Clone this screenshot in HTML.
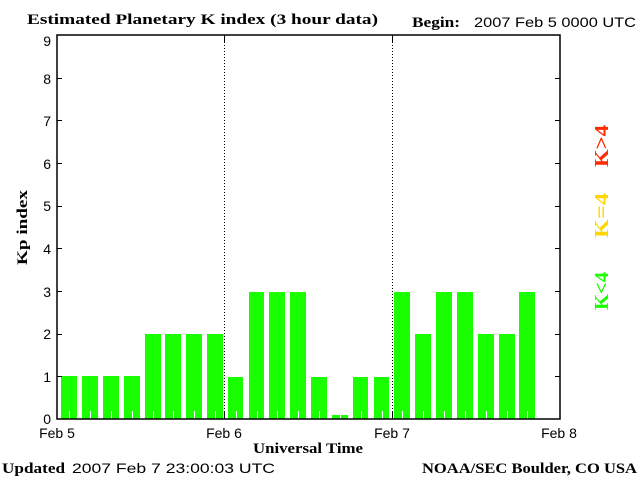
<!DOCTYPE html>
<html><head><meta charset="utf-8"><style>
html,body{margin:0;padding:0;background:#fff;width:640px;height:480px;overflow:hidden}
svg{display:block}
.s{font-family:"Liberation Sans",sans-serif;font-size:14px;fill:#000}
.b{font-family:"Liberation Serif",serif;font-weight:bold;font-size:15px;fill:#000}
</style></head><body>
<svg width="640" height="480" viewBox="0 0 640 480" xmlns="http://www.w3.org/2000/svg">
<text class="b" x="27" y="24" textLength="351" lengthAdjust="spacingAndGlyphs">Estimated Planetary K index (3 hour data)</text>
<text class="b" x="412" y="27" textLength="48" lengthAdjust="spacingAndGlyphs">Begin:</text>
<text class="s" x="474" y="27" textLength="162" lengthAdjust="spacingAndGlyphs">2007 Feb 5 0000 UTC</text>
<g fill="#1aff00">
<rect x="61" y="376" width="16" height="43"/>
<rect x="82" y="376" width="16" height="43"/>
<rect x="103" y="376" width="16" height="43"/>
<rect x="124" y="376" width="16" height="43"/>
<rect x="145" y="334" width="16" height="85"/>
<rect x="165" y="334" width="16" height="85"/>
<rect x="186" y="334" width="16" height="85"/>
<rect x="207" y="334" width="16" height="85"/>
<rect x="228" y="377" width="15" height="42"/>
<rect x="249" y="292" width="15" height="127"/>
<rect x="269" y="292" width="16" height="127"/>
<rect x="290" y="292" width="16" height="127"/>
<rect x="311" y="377" width="16" height="42"/>
<rect x="332" y="415" width="16" height="4"/>
<rect x="353" y="377" width="15" height="42"/>
<rect x="374" y="377" width="15" height="42"/>
<rect x="394" y="292" width="16" height="127"/>
<rect x="415" y="334" width="16" height="85"/>
<rect x="436" y="292" width="16" height="127"/>
<rect x="457" y="292" width="16" height="127"/>
<rect x="478" y="334" width="16" height="85"/>
<rect x="499" y="334" width="16" height="85"/>
<rect x="519" y="292" width="16" height="127"/>
</g>
<g stroke="#fff" stroke-width="1">
<path d="M69.5 411V419M90.5 411V419M111.5 411V419M132.5 411V419M153.5 411V419M173.5 411V419M194.5 411V419M215.5 411V419M236.5 411V419M257.5 411V419M277.5 411V419M298.5 411V419M319.5 411V419M340.5 411V419M361.5 411V419M382.5 411V419M402.5 411V419M423.5 411V419M444.5 411V419M465.5 411V419M486.5 411V419M507.5 411V419M527.5 411V419"/>
</g>
<g stroke="#000" stroke-width="1" stroke-dasharray="1,2">
<path d="M224.5 36V412M392.5 36V412"/>
</g>
<g stroke="#000" stroke-width="1.5" fill="none">
<rect x="57" y="35" width="503" height="384"/>
</g>
<g stroke="#000" stroke-width="1">
<path d="M224.5 411V419M392.5 411V419M224.5 35V43M392.5 35V43"/>
<path d="M57 376.5H62M57 334.5H62M57 291.5H62M57 248.5H62M57 206.5H62M57 163.5H62M57 120.5H62M57 78.5H62"/>
<path d="M555 376.5H560M555 334.5H560M555 291.5H560M555 248.5H560M555 206.5H560M555 163.5H560M555 120.5H560M555 78.5H560"/>
</g>
<g class="s" text-anchor="end">
<text x="51" y="424">0</text><text x="51" y="382">1</text><text x="51" y="339">2</text>
<text x="51" y="297">3</text><text x="51" y="254">4</text><text x="51" y="211">5</text>
<text x="51" y="169">6</text><text x="51" y="126">7</text><text x="51" y="84">8</text>
<text x="51" y="46">9</text>
</g>
<g class="s" text-anchor="middle">
<text x="57" y="438">Feb 5</text><text x="224" y="438">Feb 6</text>
<text x="392" y="438">Feb 7</text><text x="559" y="438">Feb 8</text>
</g>
<text class="b" x="253" y="453" textLength="110" lengthAdjust="spacingAndGlyphs">Universal Time</text>
<text class="b" transform="translate(27,265) rotate(-90)" textLength="75" lengthAdjust="spacingAndGlyphs">Kp index</text>
<g font-family="Liberation Serif,serif" font-weight="bold" font-size="20">
<text transform="translate(608,167) rotate(-90)" fill="#ff2a00" textLength="42" lengthAdjust="spacingAndGlyphs">K&gt;4</text>
<text transform="translate(608,238) rotate(-90)" fill="#ffd700" textLength="45" lengthAdjust="spacingAndGlyphs">K=4</text>
<text transform="translate(608,310) rotate(-90)" fill="#1aff00" textLength="38" lengthAdjust="spacingAndGlyphs">K&lt;4</text>
</g>
<text class="b" x="2" y="473" textLength="63" lengthAdjust="spacingAndGlyphs">Updated</text>
<text class="s" x="72" y="473" textLength="203" lengthAdjust="spacingAndGlyphs">2007 Feb  7 23:00:03 UTC</text>
<text class="b" x="422" y="473" textLength="215" lengthAdjust="spacingAndGlyphs">NOAA/SEC Boulder, CO USA</text>
</svg>
</body></html>
